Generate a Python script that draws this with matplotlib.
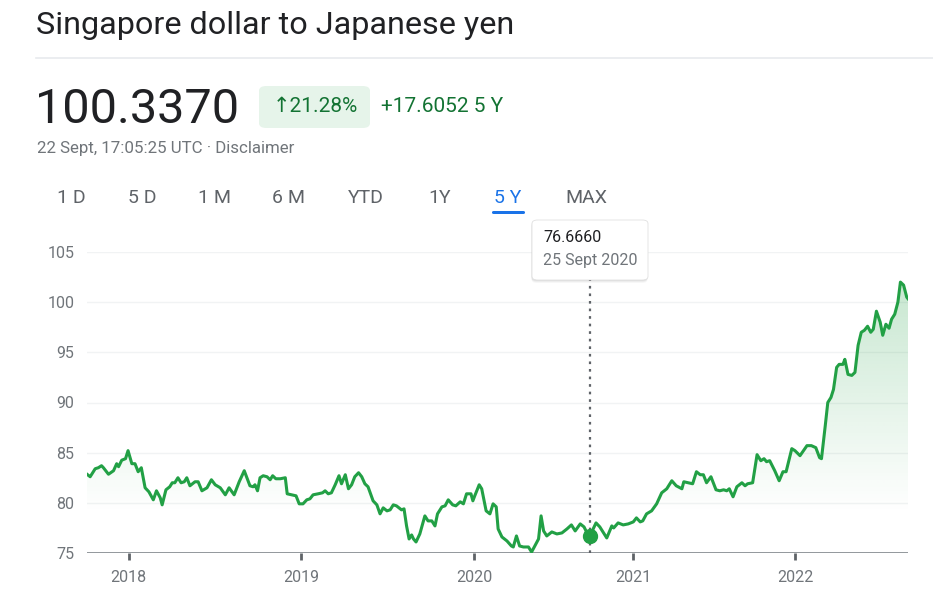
import numpy as np
import matplotlib.pyplot as plt
from matplotlib.patches import FancyBboxPatch
from matplotlib.path import Path
from matplotlib.patches import PathPatch

plt.rcParams['font.family'] = ['Roboto', 'DejaVu Sans']

# data: trading-day index (5 year window) and SGD/JPY rate
days = [0, 5, 13, 18, 23, 26, 34, 42, 47, 50, 55, 61, 65, 71, 76, 81, 86, 92, 98, 105,
        110, 116, 119, 125, 131, 135, 139, 144, 149, 154, 158, 163, 171, 176, 182, 190, 197, 203, 211, 219,
        225, 233, 241, 249, 258, 263, 266, 270, 274, 279, 285, 290, 294, 299, 306, 314, 317, 324, 331, 336,
        342, 348, 353, 358, 366, 373, 377, 382, 387, 393, 399, 403, 409, 414, 419, 424, 430, 435, 440, 445,
        453, 459, 464, 469, 475, 480, 485, 490, 498, 502, 506, 510, 514, 517, 521, 527, 535, 540, 546, 551,
        555, 562, 567, 572, 579, 584, 591, 596, 601, 608, 611, 614, 621, 625, 632, 638, 643, 648, 651, 657,
        665, 672, 675, 680, 685, 691, 699, 704, 709, 715, 719, 723, 728, 736, 744, 752, 760, 767, 773, 781,
        787, 791, 796, 806, 812, 823, 831, 834, 841, 849, 857, 865, 870, 876, 880, 886, 894, 902, 910, 918,
        926, 933, 942, 945, 952, 959, 965, 971, 976, 981, 988, 996, 1002, 1008, 1013, 1017, 1023, 1029, 1037, 1042,
        1046, 1054, 1061, 1067, 1072, 1076, 1081, 1089, 1096, 1102, 1107, 1116, 1121, 1129, 1140, 1147, 1154, 1160, 1163, 1169,
        1173, 1178, 1182, 1187, 1191, 1197, 1200, 1205, 1211, 1216, 1221, 1226, 1231, 1236, 1241, 1245, 1250, 1256, 1260, 1265,
        1270, 1274, 1279, 1284, 1288, 1293, 1298, 1300]
rate = [82.85, 82.6, 83.4, 83.5, 83.7, 83.5, 82.85, 83.2, 83.9, 83.6, 84.25, 84.4, 85.2, 83.9, 83.9, 83.1, 83.5, 81.5, 81.1, 80.3,
        81.2, 80.5, 79.8, 81.3, 81.6, 82.0, 82.0, 82.5, 82.0, 82.1, 82.5, 81.7, 82.1, 82.1, 81.2, 81.5, 82.3, 81.8, 81.5, 80.8,
        81.5, 80.8, 82.1, 83.2, 81.7, 81.6, 81.8, 81.2, 82.5, 82.7, 82.6, 82.3, 82.7, 82.4, 82.4, 82.5, 80.9, 80.8, 80.7, 79.9,
        79.9, 80.3, 80.4, 80.8, 80.9, 81.0, 81.2, 80.9, 81.0, 81.8, 82.7, 81.9, 82.8, 81.4, 81.8, 82.6, 83.0, 82.6, 81.9, 81.6,
        80.2, 79.8, 78.9, 79.5, 79.2, 79.3, 79.8, 79.7, 79.3, 79.4, 77.7, 76.4, 76.8, 76.4, 76.1, 76.9, 78.7, 78.2, 78.2, 77.7,
        78.9, 79.6, 79.7, 80.3, 79.8, 79.7, 80.1, 79.9, 80.9, 80.9, 80.2, 80.7, 81.8, 81.4, 79.2, 78.9, 79.9, 79.6, 77.4, 76.6,
        76.2, 75.7, 75.6, 76.7, 75.7, 75.6, 75.6, 75.1, 75.7, 76.4, 78.7, 77.2, 76.7, 77.1, 76.9, 77.0, 77.4, 77.8, 77.2, 77.9,
        77.6, 77.1, 76.666, 78.0, 77.6, 76.5, 77.7, 77.5, 78.0, 77.8, 77.9, 78.1, 78.5, 78.1, 78.2, 78.9, 79.2, 79.9, 81.0, 81.4,
        82.2, 81.7, 81.4, 82.1, 82.0, 81.9, 83.1, 82.8, 82.8, 82.0, 82.6, 81.3, 81.2, 81.3, 81.2, 81.4, 80.6, 81.6, 82.0, 81.7,
        81.9, 82.0, 84.8, 84.2, 84.4, 84.1, 84.2, 83.2, 82.2, 83.1, 83.1, 85.4, 85.2, 84.7, 85.7, 85.7, 85.5, 84.5, 84.4, 87.7,
        90.0, 90.5, 91.3, 93.5, 93.8, 93.8, 94.3, 92.8, 92.7, 93.0, 95.7, 97.0, 97.2, 97.6, 97.0, 97.3, 99.1, 98.0, 96.7, 97.8,
        97.4, 98.3, 98.8, 100.0, 102.0, 101.7, 100.5, 100.337]

year_labels = ['2018', '2019', '2020', '2021', '2022']
year_starts = [66, 339, 613, 865, 1121]
y_ticks = [75, 80, 85, 90, 95, 100, 105]

hover_day = 796
hover_value = 76.666
hover_text = '76.6660'
hover_date = '25 Sept 2020'

ranges = ['1 D', '5 D', '1 M', '6 M', 'YTD', '1Y', '5 Y', 'MAX']

W, H = 933, 604
GREEN = '#22a045'
GRAY = '#70757a'

fig = plt.figure(figsize=(W / 100, H / 100), dpi=100)


def fx(px):
    return px / W


def fy(py):
    return 1 - py / H


# header
fig.text(fx(36), fy(25), 'Singapore dollar to Japanese yen', fontsize=23.3, color='#202124', va='center')
fig.add_artist(plt.Line2D([fx(36), 1], [fy(58), fy(58)], color='#e8eaed', lw=1.2))
fig.text(fx(35), fy(110), '100.3370', fontsize=35, color='#202124', va='center')
fig.add_artist(FancyBboxPatch((fx(259), fy(128)), fx(370) - fx(259), fy(86) - fy(128),
                              boxstyle='round,pad=0,rounding_size=0.008',
                              fc='#e6f4ea', ec='none', transform=fig.transFigure))
fig.text(fx(315), fy(106), '\u219121.28%', fontsize=15, color='#137333', ha='center', va='center')
fig.text(fx(381), fy(106), '+17.6052 5 Y', fontsize=15, color='#137333', va='center')
fig.text(fx(37), fy(149), '22 Sept, 17:05:25 UTC \u00b7 Disclaimer', fontsize=12.2, color=GRAY, va='center')

tab_x = [71, 142, 215, 289, 366, 440, 508, 586]
for lab, x in zip(ranges, tab_x):
    col = '#1a73e8' if lab == '5 Y' else '#5f6368'
    fig.text(fx(x), fy(198), lab, fontsize=14, color=col, ha='center', va='center')
fig.add_artist(FancyBboxPatch((fx(492), fy(214)), fx(525) - fx(492), fy(211) - fy(214),
                              boxstyle='round,pad=0,rounding_size=0.002',
                              fc='#1a73e8', ec='none', transform=fig.transFigure))

# chart
ax = fig.add_axes([fx(87), fy(553), fx(908) - fx(87), fy(252) - fy(553)])
ax.set_xlim(0, 1300)
ax.set_ylim(75, 105)

x = np.array(days)
y = np.array(rate)

# gradient fill under the line
grad = np.zeros((200, 2, 4))
rgb = np.array([34, 160, 69]) / 255
grad[..., :3] = rgb
lev = np.linspace(105, 75, 200)
grad[..., 3] = np.clip((lev - 79) / (103 - 79), 0, 1)[:, None] * 0.26
img = ax.imshow(grad, extent=(0, 1300, 75, 105), aspect='auto', zorder=1, interpolation='bilinear')
verts = np.vstack([np.column_stack([x, y]), [[x[-1], 75], [x[0], 75]]])
clip = PathPatch(Path(verts), transform=ax.transData, fc='none', ec='none')
ax.add_patch(clip)
img.set_clip_path(clip)

ax.plot(x, y, color=GREEN, lw=2.2, zorder=3, solid_joinstyle='round')

for v in y_ticks[1:]:
    ax.axhline(v, color='#f1f3f4', lw=1, zorder=0)
ax.axhline(75, color='#80868b', lw=1.2, zorder=2)

ax.set_xticks(year_starts)
ax.set_xticklabels(year_labels)
ax.set_yticks(y_ticks)
ax.tick_params(axis='x', length=5, width=2, color='#5f6368', labelsize=11.5, labelcolor=GRAY, pad=7)
ax.tick_params(axis='y', length=0, labelsize=11.5, labelcolor=GRAY, pad=9)
for s in ax.spines.values():
    s.set_visible(False)

# hover marker and tooltip
ax.plot([hover_day, hover_day], [75, 102.3], color='#5f6368', lw=1.6, ls=(0, (1.2, 2.2)),
        clip_on=False, zorder=2)
ax.plot(hover_day, hover_value, 'o', color=GREEN, ms=10, zorder=4, clip_on=False)

for i, a in enumerate([0.05, 0.04, 0.03]):
    fig.add_artist(FancyBboxPatch((fx(532 - 0.5), fy(281 + i)), fx(648) - fx(532), fy(220) - fy(280),
                                  boxstyle='round,pad=0,rounding_size=0.006',
                                  fc=(0, 0, 0, a), ec='none', transform=fig.transFigure))
fig.add_artist(FancyBboxPatch((fx(532), fy(280)), fx(648) - fx(532), fy(220) - fy(280),
                              boxstyle='round,pad=0,rounding_size=0.006',
                              fc='white', ec='#e0e0e0', lw=0.6, transform=fig.transFigure))
fig.text(fx(543), fy(238), hover_text, fontsize=11.5, color='#202124', va='center')
fig.text(fx(543), fy(260), hover_date, fontsize=11.5, color=GRAY, va='center')

fig.savefig('out.png', dpi=100)
